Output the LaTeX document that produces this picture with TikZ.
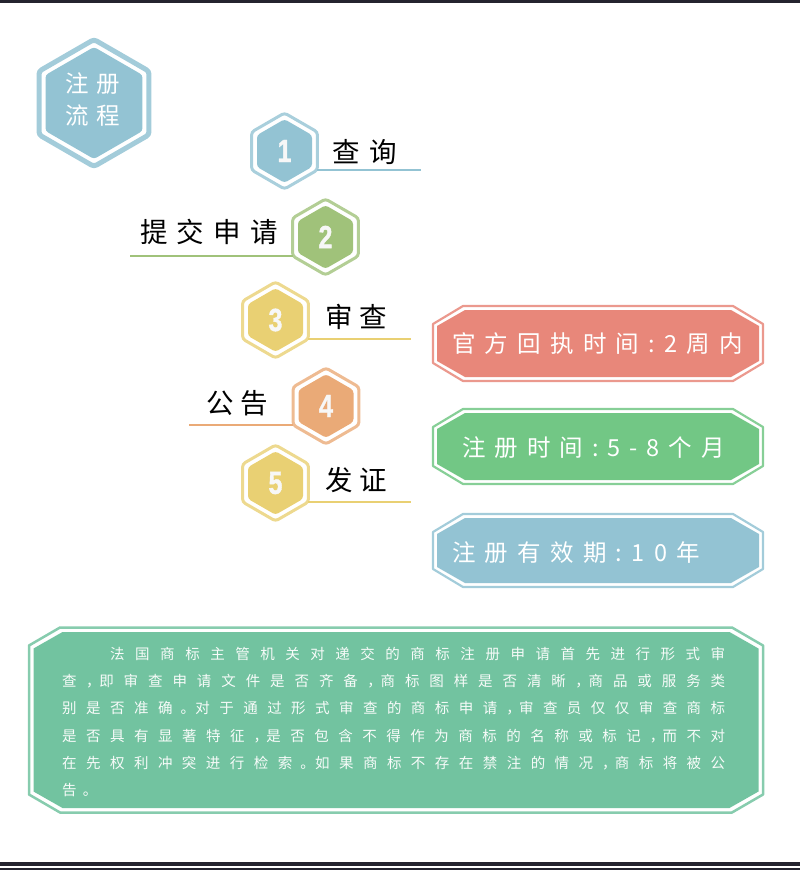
\documentclass[tikz,border=0pt]{standalone}
\usepackage{fontspec}
\setmainfont{Noto Sans CJK SC}
\newfontfamily\numfont[FakeStretch=0.78,FakeBold=1.2]{Liberation Sans}
\usetikzlibrary{shapes.geometric}
\definecolor{hblue}{HTML}{93C3D3}
\definecolor{sgreen}{HTML}{A0C27A}
\definecolor{syellow}{HTML}{E9D073}
\definecolor{sorange}{HTML}{EAAA77}
\definecolor{bsalmon}{HTML}{E8877A}
\definecolor{bgreen}{HTML}{72C785}
\definecolor{tgreen}{HTML}{72C3A0}
\definecolor{borderdark}{HTML}{24232F}
\def\spreadrest#1{\ifx\relax#1\else\hfil#1\expandafter\spreadrest\fi}
\def\spreadfirst#1{#1\spreadrest}
\newcommand\spreadtext[2]{\makebox[#1][s]{\spreadfirst#2\relax}}
\newcommand\pc{\makebox[2.8pt][l]{\kern-0.5pt，}}
\newcommand\pd{\makebox[4pt][l]{\kern-1.3pt。}}
% cx cy halfwidth halfheight cutx cuty
\newcommand\octpath[6]{({#1-#3+#5},{#2-#4}) -- ({#1+#3-#5},{#2-#4}) -- ({#1+#3},{#2-#4+#6}) -- ({#1+#3},{#2+#4-#6}) -- ({#1+#3-#5},{#2+#4}) -- ({#1-#3+#5},{#2+#4}) -- ({#1-#3},{#2+#4-#6}) -- ({#1-#3},{#2-#4+#6}) -- cycle}
\tikzset{
  hexshape/.style={regular polygon, regular polygon sides=6, shape border rotate=30,
    inner sep=0pt, outer sep=0pt, rounded corners=3pt, minimum size=#1},
  link/.style={line width=2pt},
  steplabel/.style={inner sep=0pt, text=black, font=\fontsize{27.5}{30}\selectfont},
  numtxt/.style={text=white!97!black, font=\numfont\bfseries\fontsize{32}{32}\selectfont},
  boxtxt/.style={inner sep=0pt, text=white, font=\fontsize{23.5}{26}\selectfont},
  headtxt/.style={inner sep=0pt, text=white, align=center, font=\fontsize{23.5}{32}\selectfont},
  paratxt/.style={inner sep=0pt, anchor=west, text=white!94!tgreen, font=\fontsize{14.5}{17}\selectfont},
  octline/.style={line width=2.2pt, line join=round},
}
\begin{document}
\begin{tikzpicture}[x=1pt,y=-1pt]
\useasboundingbox (0,0) rectangle (800,870);
% page borders
\fill[borderdark] (0,0) rectangle (800,2.5);
\fill[borderdark] (0,862) rectangle (800,866);
\fill[borderdark] (0,867.5) rectangle (800,870);

% header hexagon
\node[hexshape=127pt, draw=hblue!85!white, line width=5pt] (hh) at (94,103) {};
\node[hexshape=112pt, fill=hblue] (hhf) at (94,103) {};
\node[headtxt] (ht) at (92.5,99.5) {\spreadtext{55pt}{注册}\\\spreadtext{55pt}{流程}};

% connector end points
\coordinate (e1) at (421,0);
\coordinate (e2) at (130,0);
\coordinate (e3) at (411,0);
\coordinate (e4) at (189,0);
\coordinate (e5) at (411,0);

% step hexagons
\node[hexshape=76pt, draw=hblue!80!white, line width=3pt] (h1) at (284.5,151) {};
\node[hexshape=63.5pt, fill=hblue, numtxt] (n1) at (284.5,151) {1};
\node[hexshape=76pt, draw=sgreen!80!white, line width=3pt] (h2) at (325.5,237) {};
\node[hexshape=63.5pt, fill=sgreen, numtxt] (n2) at (325.5,237) {2};
\node[hexshape=76pt, draw=syellow!80!white, line width=3pt] (h3) at (275.5,320) {};
\node[hexshape=63.5pt, fill=syellow, numtxt] (n3) at (275.5,320) {3};
\node[hexshape=76pt, draw=sorange!80!white, line width=3pt] (h4) at (326,406) {};
\node[hexshape=63.5pt, fill=sorange, numtxt] (n4) at (326,406) {4};
\node[hexshape=76pt, draw=syellow!80!white, line width=3pt] (h5) at (275.5,483) {};
\node[hexshape=63.5pt, fill=syellow, numtxt] (n5) at (275.5,483) {5};

\draw[link, hblue] (h1.-30) -- (h1.-30 -| e1);
\draw[link, sgreen] (h2.210) -- (h2.210 -| e2);
\draw[link, syellow] (h3.-30) -- (h3.-30 -| e3);
\draw[link, sorange] (h4.210) -- (h4.210 -| e4);
\draw[link, syellow] (h5.-30) -- (h5.-30 -| e5);

% step labels
\node[steplabel] (t1) at (364.5,152) {\spreadtext{65pt}{查询}};
\node[steplabel] (t2) at (209,232) {\spreadtext{138pt}{提交申请}};
\node[steplabel] (t3) at (356,317) {\spreadtext{62pt}{审查}};
\node[steplabel] (t4) at (237,403) {\spreadtext{62pt}{公告}};
\node[steplabel] (t5) at (356,480) {\spreadtext{62pt}{发证}};

% right info boxes
\draw[octline, bsalmon!85!white] \octpath{598}{343.5}{165}{37.5}{30}{18};
\fill[bsalmon] \octpath{598}{343.5}{161}{33.5}{28}{16};
\node[boxtxt] (b1) at (597.5,344) {\spreadtext{291pt}{官方回执时间:2周内}};

\draw[octline, bgreen!85!white] \octpath{598}{446.5}{165}{37.5}{30}{18};
\fill[bgreen] \octpath{598}{446.5}{161}{33.5}{28}{16};
\node[boxtxt] (b2) at (593.5,448) {\spreadtext{263pt}{注册时间:5-8个月}};

\draw[octline, hblue!85!white] \octpath{598}{550.5}{165}{36.5}{30}{18};
\fill[hblue] \octpath{598}{550.5}{161}{32.5}{28}{16};
\node[boxtxt] (b3) at (576,553) {\spreadtext{248pt}{注册有效期:10年}};

% bottom paragraph box
\draw[octline, tgreen!85!white, line width=2.5pt] \octpath{396}{720}{367}{92.5}{31}{18};
\fill[tgreen] \octpath{396}{720}{362.5}{88}{29}{16.5};
\node[paratxt] (p1) at (110,654) {\spreadtext{615pt}{法国商标主管机关对递交的商标注册申请首先进行形式审}};
\node[paratxt] (p2) at (62,681.3) {\spreadtext{663pt}{查\pc 即审查申请文件是否齐备\pc 商标图样是否清晰\pc 商品或服务类}};
\node[paratxt] (p3) at (62,708.6) {\spreadtext{663pt}{别是否准确\pd 对于通过形式审查的商标申请\pc 审查员仅仅审查商标}};
\node[paratxt] (p4) at (62,735.9) {\spreadtext{663pt}{是否具有显著特征\pc 是否包含不得作为商标的名称或标记\pc 而不对}};
\node[paratxt] (p5) at (62,763.2) {\spreadtext{663pt}{在先权利冲突进行检索\pd 如果商标不存在禁注的情况\pc 商标将被公}};
\node[paratxt] (p6) at (62,790.5) {\spreadtext{26pt}{告\pd}};
\end{tikzpicture}
\end{document}
